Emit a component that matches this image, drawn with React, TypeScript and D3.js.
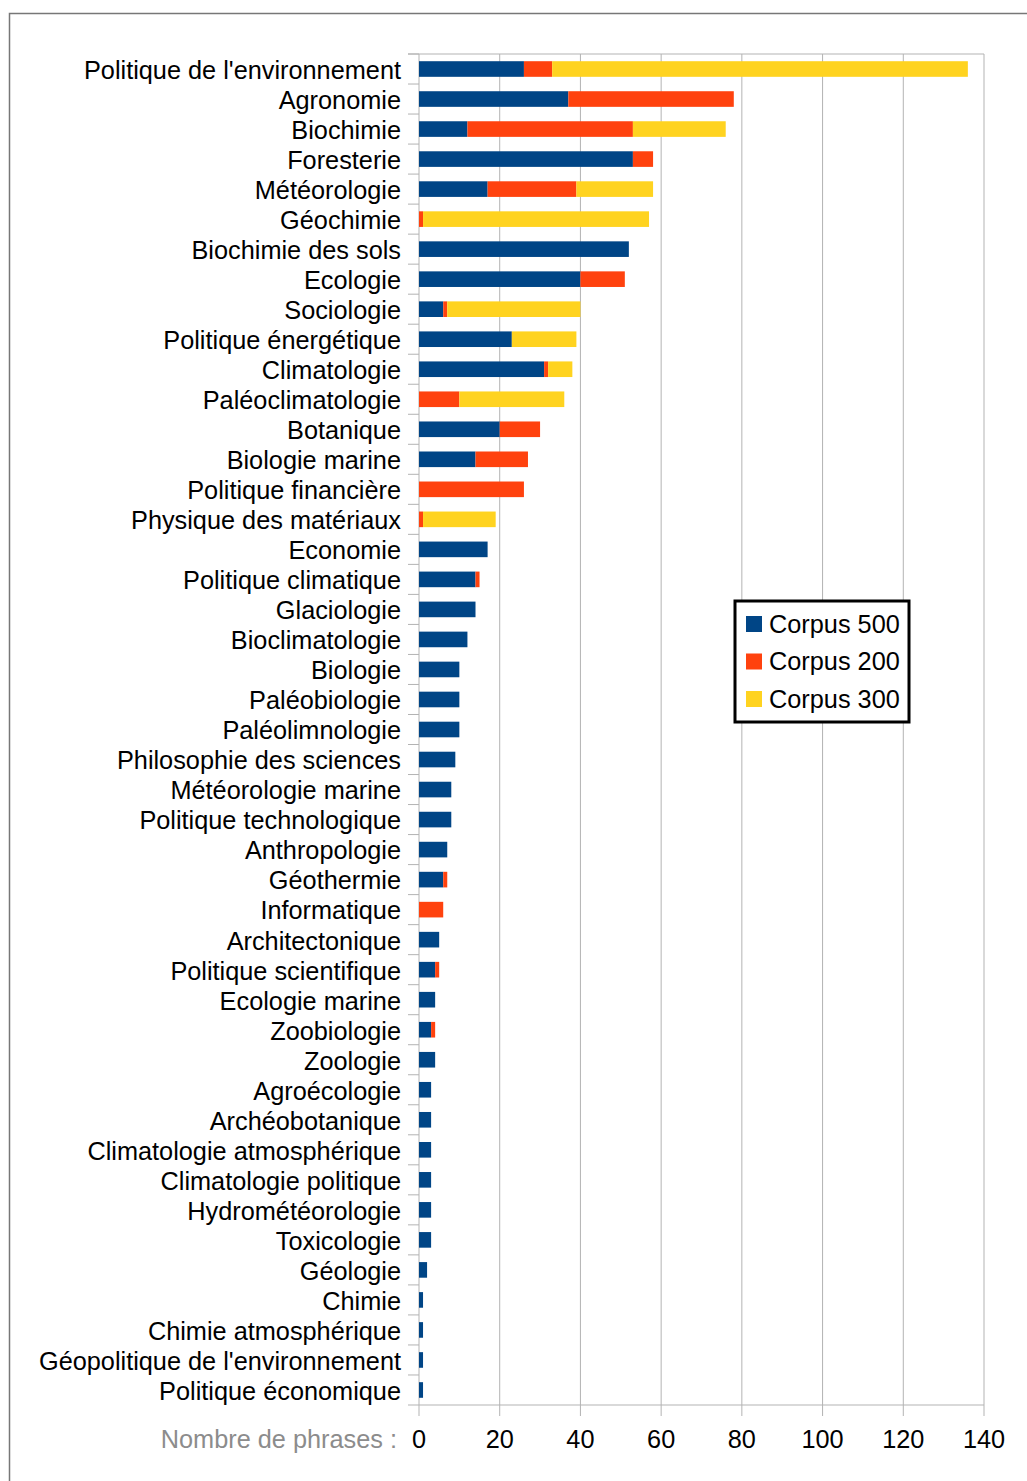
import React from "react";
import * as d3 from "d3";

const categories = [
  "Politique de l'environnement", "Agronomie", "Biochimie", "Foresterie", "Météorologie",
  "Géochimie", "Biochimie des sols", "Ecologie", "Sociologie", "Politique énergétique",
  "Climatologie", "Paléoclimatologie", "Botanique", "Biologie marine", "Politique financière",
  "Physique des matériaux", "Economie", "Politique climatique", "Glaciologie", "Bioclimatologie",
  "Biologie", "Paléobiologie", "Paléolimnologie", "Philosophie des sciences", "Météorologie marine",
  "Politique technologique", "Anthropologie", "Géothermie", "Informatique", "Architectonique",
  "Politique scientifique", "Ecologie marine", "Zoobiologie", "Zoologie", "Agroécologie",
  "Archéobotanique", "Climatologie atmosphérique", "Climatologie politique", "Hydrométéorologie", "Toxicologie",
  "Géologie", "Chimie", "Chimie atmosphérique", "Géopolitique de l'environnement", "Politique économique",
];

const corpus500 = [26, 37, 12, 53, 17, 0, 52, 40, 6, 23, 31, 0, 20, 14, 0, 0, 17, 14, 14, 12, 10, 10, 10, 9, 8, 8, 7, 6, 0, 5, 4, 4, 3, 4, 3, 3, 3, 3, 3, 3, 2, 1, 1, 1, 1];
const corpus200 = [7, 41, 41, 5, 22, 1, 0, 11, 1, 0, 1, 10, 10, 13, 26, 1, 0, 1, 0, 0, 0, 0, 0, 0, 0, 0, 0, 1, 6, 0, 1, 0, 1, 0, 0, 0, 0, 0, 0, 0, 0, 0, 0, 0, 0];
const corpus300 = [103, 0, 23, 0, 19, 56, 0, 0, 33, 16, 6, 26, 0, 0, 0, 18, 0, 0, 0, 0, 0, 0, 0, 0, 0, 0, 0, 0, 0, 0, 0, 0, 0, 0, 0, 0, 0, 0, 0, 0, 0, 0, 0, 0, 0];

const seriesNames = ["Corpus 500", "Corpus 200", "Corpus 300"];
const seriesKeys = ["c500", "c200", "c300"];
const xTicks = [0, 20, 40, 60, 80, 100, 120, 140];

const colors = ["#004586", "#ff420e", "#ffd320"];
const font = "'Liberation Sans', Arial, sans-serif";

export default function App() {
  const width = 1027;
  const height = 1481;
  const left = 419, right = 984, top = 54, bottom = 1405;

  const rows = categories.map((c, i) => ({ cat: c, c500: corpus500[i], c200: corpus200[i], c300: corpus300[i] }));
  const stacked = d3.stack<any>().keys(seriesKeys)(rows);

  const x = d3.scaleLinear().domain([0, 140]).range([left, right]);
  const y = d3.scaleBand().domain(categories).range([top, bottom]).paddingInner(0.48).paddingOuter(0.24);
  const step = y.step();
  const boundaries = d3.range(categories.length + 1).map(i => top + i * step);

  return (
    <svg width={width} height={height} style={{ position: "absolute", left: 0, top: 0, background: "#fff" }} fontFamily={font}>
      <rect x={0} y={0} width={width} height={height} fill="#fff" />
      {/* outer frame */}
      <path d={`M9.5,${height} V13.5 H${width}`} fill="none" stroke="#777" strokeWidth={1.5} />

      {/* grid */}
      {xTicks.map(t => (
        <line key={"g" + t} x1={x(t)} x2={x(t)} y1={top} y2={bottom + 11} stroke="#b3b3b3" strokeWidth={1} />
      ))}
      <line x1={left - 11} x2={right} y1={top} y2={top} stroke="#b3b3b3" strokeWidth={1} />
      <line x1={left} x2={right} y1={bottom} y2={bottom} stroke="#b3b3b3" strokeWidth={1} />
      {boundaries.map((b, i) => (
        <line key={"t" + i} x1={left - 11} x2={left} y1={b} y2={b} stroke="#b3b3b3" strokeWidth={1} />
      ))}

      {/* bars */}
      {stacked.map((s, si) => (
        <g key={s.key} fill={colors[si]}>
          {s.map((d, i) => d[1] - d[0] > 0 ? (
            <rect key={i} x={x(d[0])} y={y(categories[i])!} width={x(d[1]) - x(d[0])} height={y.bandwidth()} />
          ) : null)}
        </g>
      ))}

      {/* category labels */}
      {categories.map(c => (
        <text key={c} x={401} y={y(c)! + y.bandwidth() / 2 + 1} dy="0.35em" textAnchor="end" fontSize={25.3} fill="#000">{c}</text>
      ))}

      {/* x tick labels */}
      {xTicks.map(t => (
        <text key={"l" + t} x={x(t)} y={1448} textAnchor="middle" fontSize={25.3} fill="#000">{t}</text>
      ))}
      <text x={397} y={1448} textAnchor="end" fontSize={25.3} fill="#8c8c8c">Nombre de phrases :</text>

      {/* legend */}
      <rect x={735} y={601} width={174} height={121} fill="#fff" stroke="#000" strokeWidth={3} />
      {seriesNames.map((n, i) => (
        <g key={n} transform={`translate(746, ${624 + i * 37.5})`}>
          <rect x={0} y={-8} width={16} height={16} fill={colors[i]} />
          <text x={23} y={0} dy="0.35em" fontSize={25.3} fill="#000">{n}</text>
        </g>
      ))}
    </svg>
  );
}
